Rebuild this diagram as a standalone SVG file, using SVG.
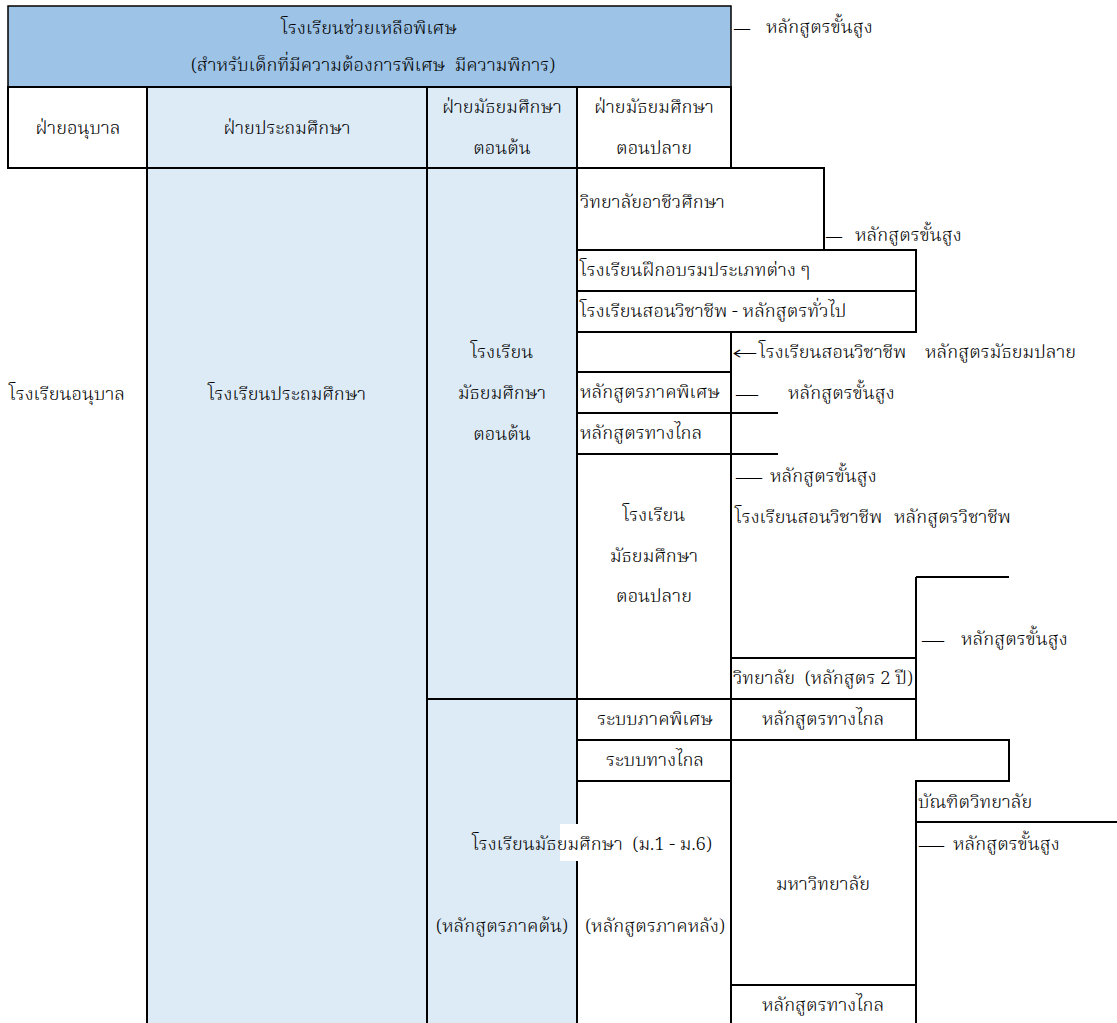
<svg xmlns="http://www.w3.org/2000/svg" width="1117" height="1023" viewBox="0 0 1117 1023">
<style>
text{font-family:"Norasi","Kinnari","Noto Serif Thai","Noto Sans Thai","Liberation Serif",serif;font-size:18.5px;font-weight:300;fill:#000;dominant-baseline:central;white-space:pre}
.c{text-anchor:middle}
.d{font-family:"Liberation Serif",serif}
.ar{font-family:"DejaVu Sans",sans-serif;font-size:20px}
.cell{stroke:#000;stroke-width:2}
.w{fill:#fff}
.b{fill:#DDEBF7}
.band{fill:#9DC3E6;stroke:#000;stroke-width:1.5}
.ln{stroke:#000;stroke-width:2;fill:none}
</style>
<rect width="1117" height="1023" fill="#fff"/>
<g id="band"><rect class="band" x="8" y="6" width="723" height="81"/><text class="c" x="369" y="29">โรงเรียนช่วยเหลือพิเศษ</text><text class="c" x="373" y="66">(สำหรับเด็กที่มีความต้องการพิเศษ  มีความพิการ)</text></g>
<g id="band-adv"><text class="d" x="734" y="28" textLength="16" lengthAdjust="spacingAndGlyphs">—</text><text x="766" y="28">หลักสูตรขั้นสูง</text></g>
<g id="h-kinder"><rect class="cell w" x="8" y="87" width="139" height="81"/><text class="c" x="78" y="129">ฝ่ายอนุบาล</text></g>
<g id="h-primary"><rect class="cell b" x="147" y="87" width="280" height="81"/><text class="c" x="287" y="129">ฝ่ายประถมศึกษา</text></g>
<g id="h-lower"><rect class="cell b" x="427" y="87" width="150" height="81"/><text class="c" x="502" y="108">ฝ่ายมัธยมศึกษา</text><text class="c" x="502" y="149">ตอนต้น</text></g>
<g id="h-upper"><rect class="cell w" x="577" y="87" width="154" height="81"/><text class="c" x="654" y="108">ฝ่ายมัธยมศึกษา</text><text class="c" x="654" y="149">ตอนปลาย</text></g>
<g id="kinder"><text x="9" y="395">โรงเรียนอนุบาล</text></g>
<g id="primary"><rect class="cell b" x="147" y="168" width="280" height="860"/><text class="c" x="287" y="395">โรงเรียนประถมศึกษา</text></g>
<g id="lower-sec"><rect class="cell b" x="427" y="168" width="150" height="531"/><text class="c" x="502" y="353">โรงเรียน</text><text class="c" x="502" y="394">มัธยมศึกษา</text><text class="c" x="502" y="435">ตอนต้น</text></g>
<g id="lower-first"><rect class="cell b" x="427" y="699" width="150" height="329"/><text class="c" x="502" y="927">(หลักสูตรภาคต้น)</text></g>
<g id="lower-second"><rect class="cell w" x="577" y="781" width="154" height="247"/><text class="c" x="655" y="927">(หลักสูตรภาคหลัง)</text></g>
<g id="voc-college"><rect class="cell w" x="577" y="168" width="247" height="82"/><text x="580" y="203">วิทยาลัยอาชีวศึกษา</text></g>
<g id="training"><rect class="cell w" x="577" y="250" width="339" height="41"/><text x="580" y="271">โรงเรียนฝึกอบรมประเภทต่าง ๆ</text></g>
<g id="voc-general"><rect class="cell w" x="577" y="291" width="339" height="41"/><text x="580" y="312">โรงเรียนสอนวิชาชีพ - หลักสูตรทั่วไป</text></g>
<g id="empty"><rect class="cell w" x="577" y="332" width="154" height="40"/></g>
<g id="special-course"><rect class="cell w" x="577" y="372" width="154" height="41"/><text x="580" y="393">หลักสูตรภาคพิเศษ</text></g>
<g id="distance-course"><rect class="cell w" x="577" y="413" width="154" height="41"/><text x="580" y="434">หลักสูตรทางไกล</text></g>
<g id="upper-sec"><rect class="cell w" x="577" y="454" width="154" height="245"/><text class="c" x="654" y="516">โรงเรียน</text><text class="c" x="654" y="557">มัธยมศึกษา</text><text class="c" x="654" y="597">ตอนปลาย</text></g>
<g id="special-sys"><rect class="cell w" x="577" y="699" width="154" height="41"/><text class="c" x="655" y="720">ระบบภาคพิเศษ</text></g>
<g id="distance-sys"><rect class="cell w" x="577" y="740" width="154" height="41"/><text class="c" x="655" y="761">ระบบทางไกล</text></g>
<g id="junior-college"><rect class="cell w" x="731" y="658" width="185" height="41"/><text x="733" y="679">วิทยาลัย  (หลักสูตร 2 ปี)</text></g>
<g id="jc-distance"><rect class="cell w" x="731" y="699" width="185" height="41"/><text class="c" x="823" y="720">หลักสูตรทางไกล</text></g>
<g id="university"><path class="cell w" d="M731 740H1009V781H916V985H731Z"/><text class="c" x="823" y="885">มหาวิทยาลัย</text></g>
<g id="uni-distance"><rect class="cell w" x="731" y="985" width="185" height="43"/><text class="c" x="823" y="1006">หลักสูตรทางไกล</text></g>
<g id="graduate"><path class="ln" d="M916 781V1028M916 822H1117"/><text x="918" y="803">บัณฑิตวิทยาลัย</text></g>
<g id="connectors">
<path class="ln" d="M731 332V454M731 413H778M731 454H778M916 577H1009M916 577V740"/>
<rect x="560" y="824" width="40" height="37" fill="#fff"/>
<path class="ln" d="M577 781V824M577 861V1028"/>
</g>
<g id="labels">
<text class="d" x="826" y="236" textLength="16" lengthAdjust="spacingAndGlyphs">—</text><text x="855" y="236">หลักสูตรขั้นสูง</text>
<text class="ar" x="732" y="353" textLength="26" lengthAdjust="spacingAndGlyphs">←</text><text x="759" y="353">โรงเรียนสอนวิชาชีพ</text><text x="925" y="353">หลักสูตรมัธยมปลาย</text>
<text class="d" x="736" y="394" textLength="22" lengthAdjust="spacingAndGlyphs">—</text><text x="788" y="394">หลักสูตรขั้นสูง</text>
<text class="d" x="736" y="477" textLength="26" lengthAdjust="spacingAndGlyphs">—</text><text x="770" y="477">หลักสูตรขั้นสูง</text>
<text x="735" y="518">โรงเรียนสอนวิชาชีพ</text><text x="894" y="518">หลักสูตรวิชาชีพ</text>
<text class="d" x="922" y="640" textLength="22" lengthAdjust="spacingAndGlyphs">—</text><text x="961" y="640">หลักสูตรขั้นสูง</text>
<text class="d" x="919" y="845" textLength="25" lengthAdjust="spacingAndGlyphs">—</text><text x="953" y="845">หลักสูตรขั้นสูง</text>
</g>
<g id="wide-label"><rect x="577" y="826" width="2" height="34" fill="#fff"/><text class="c" x="592" y="845">โรงเรียนมัธยมศึกษา  (ม.1 - ม.6)</text></g>
</svg>
